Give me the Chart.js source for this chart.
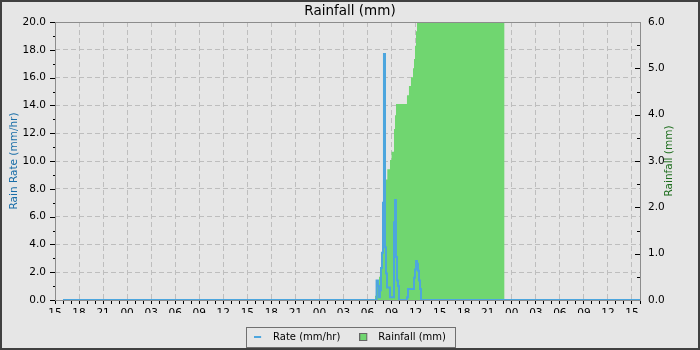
<!DOCTYPE html>
<html>
<head>
<meta charset="utf-8">
<title>Rainfall</title>
<script src="https://cdn.jsdelivr.net/npm/chart.js@4.4.1/dist/chart.umd.min.js"></script>
<style>
    html, body { margin: 0; padding: 0; background: #404040; }
    #frame { position: absolute; left: 2px; top: 2px; width: 696px; height: 346px; overflow: hidden; background: #e6e6e6; }
    #chart { display: block; }
</style>
</head>
<body>
<div id="frame"><canvas id="chart" width="696" height="350"></canvas></div>
<script>
// x axis runs in hours after 15:00 on the first day; labels every 3 hours
const hourTickLabels = ['15', '18', '21', '00', '03', '06', '09', '12', '15', '18', '21', '00', '03',
    '06', '09', '12', '15', '18', '21', '00', '03', '06', '09', '12', '15'];

// rain rate (mm/hr), each value holds until the next time
const rateHours = [1, 40.13, 40.3, 40.43, 40.55, 40.68, 40.8, 40.93, 41.05, 41.18, 41.3, 41.43, 41.8,
    42.3, 42.43, 42.55, 42.68, 42.8, 42.93, 43.92, 44.05, 44.8, 44.92, 45.05, 45.17, 45.3, 45.42,
    45.55, 45.67, 73];
const rateValues = [0, 1.4, 1.0, 0.2, 0.7, 2.3, 3.4, 7.0, 17.7, 3.8, 1.9, 0.9, 0.2,
    5.6, 7.2, 3.1, 1.4, 1.0, 0, 0.2, 0.8, 1.6, 2.2, 2.8, 2.6, 2.1, 1.4,
    0.8, 0, 0];

// accumulated rainfall (mm)
const rainHours = [1, 39.93, 40.05, 40.18, 40.43, 40.55, 40.68, 40.8, 40.93, 41.05, 41.18, 41.3, 41.47,
    41.8, 42.0, 42.3, 42.43, 42.55, 43.92, 44.17, 44.42, 44.67, 44.8, 44.92, 45.05, 45.17, 56.1];
const rainValues = [0, 0.09, 0.18, 0.36, 0.5, 0.61, 0.69, 1.0, 1.5, 2.0, 2.4, 2.6, 2.82,
    3.02, 3.2, 3.69, 3.99, 4.23, 4.42, 4.62, 4.81, 5.0, 5.2, 5.49, 5.8, 6.0, 6.0];

const RATE_COLOR = '#4da6de';
const RAIN_COLOR = '#70d670';
const GRID_COLOR = '#bebebe';

Chart.defaults.font.family = '"DejaVu Sans", sans-serif';
Chart.defaults.font.size = 10;

function legendIcon(kind) {
    const c = document.createElement('canvas');
    c.width = 14;
    c.height = 10;
    const g = c.getContext('2d');
    if (kind === 'line') {
        g.strokeStyle = RATE_COLOR;
        g.lineWidth = 2;
        g.beginPath();
        g.moveTo(0, 5);
        g.lineTo(7, 5);
        g.stroke();
    } else {
        g.fillStyle = RAIN_COLOR;
        g.fillRect(0.5, 1.5, 7, 7);
        g.strokeStyle = '#666';
        g.lineWidth = 1;
        g.strokeRect(0.5, 1.5, 7, 7);
    }
    return c;
}

// frame, hand-drawn axis ticks, right axis title and the legend box
const decorPlugin = {
    id: 'decor',
    afterDraw(chart) {
        const ctx = chart.ctx;
        const a = chart.chartArea;
        const yl = chart.scales.y;
        const yr = chart.scales.y1;
        ctx.save();
        ctx.lineWidth = 1;
        ctx.strokeStyle = '#000';
        ctx.beginPath();
        for (let v = 0; v <= 20; v++) {
            const y = Math.round(yl.getPixelForValue(v)) + 0.5;
            ctx.moveTo(a.left - (v % 2 ? 2 : 5), y);
            ctx.lineTo(a.left, y);
        }
        for (let v = 0; v <= 6; v += 0.5) {
            const y = Math.round(yr.getPixelForValue(v)) + 0.5;
            ctx.moveTo(a.right - (v % 1 ? 3 : 5), y);
            ctx.lineTo(a.right, y);
        }
        ctx.stroke();

        ctx.strokeStyle = '#8c8c8c';
        ctx.strokeRect(a.left + 0.5, a.top + 0.5, a.right - a.left, a.bottom - a.top);

        const boxes = chart.legend.legendHitBoxes;
        if (boxes.length) {
            const last = boxes[boxes.length - 1];
            const l = Math.round(boxes[0].left - 8);
            const r = Math.round(last.left + last.width + 9);
            const t = Math.round(boxes[0].top - 5);
            const b = Math.round(boxes[0].top + boxes[0].height + 5);
            ctx.strokeStyle = '#707070';
            ctx.strokeRect(l + 0.5, t + 0.5, r - l, b - t);
        }

        ctx.fillStyle = '#1e6e1e';
        ctx.font = '10.5px "DejaVu Sans"';
        ctx.textAlign = 'center';
        ctx.textBaseline = 'middle';
        ctx.translate(yr.right - 29, (a.top + a.bottom) / 2);
        ctx.rotate(-Math.PI / 2);
        ctx.fillText('Rainfall (mm)', 0, 0);
        ctx.restore();
    },
};

new Chart(document.getElementById('chart'), {
    type: 'line',
    data: {
        datasets: [
            {
                label: 'Rate (mm/hr)',
                data: rateHours.map(function (h, i) {
                    return { x: h, y: rateValues[i] };
                }),
                yAxisID: 'y',
                borderColor: RATE_COLOR,
                borderWidth: 2,
                stepped: true,
                pointRadius: 0,
                fill: false,
            },
            {
                label: 'Rainfall (mm)',
                data: rainHours.map(function (h, i) {
                    return { x: h, y: rainValues[i] };
                }),
                yAxisID: 'y1',
                borderColor: RAIN_COLOR,
                backgroundColor: RAIN_COLOR,
                borderWidth: 0,
                stepped: true,
                pointRadius: 0,
                fill: 'origin',
            },
        ],
    },
    options: {
        responsive: false,
        animation: false,
        events: [],
        layout: { padding: 0 },
        scales: {
            x: {
                type: 'linear',
                min: 0,
                max: 73,
                afterFit: function (s) { s.height = 13; },
                border: { display: false, dash: [5, 3] },
                grid: {
                    color: function (c) { return c.tick.value % 3 === 0 ? GRID_COLOR : 'transparent'; },
                    tickColor: '#000',
                    tickLength: 4,
                },
                ticks: {
                    stepSize: 1,
                    autoSkip: false,
                    maxRotation: 0,
                    padding: 3,
                    color: '#000',
                    font: { size: 10.5 },
                    callback: function (v) { return v % 3 === 0 ? hourTickLabels[v / 3] : ''; },
                },
            },
            y: {
                position: 'left',
                min: 0,
                max: 20,
                afterFit: function (s) { s.width = 53; },
                border: { display: false, dash: [5, 3] },
                grid: { color: GRID_COLOR, drawTicks: false },
                ticks: {
                    stepSize: 2,
                    padding: 9,
                    color: '#000',
                    font: { size: 10.5 },
                    callback: function (v) { return v.toFixed(1); },
                },
                title: {
                    display: true,
                    text: 'Rain Rate (mm/hr)',
                    color: '#1a6ea8',
                    font: { size: 10.5 },
                    padding: { top: 6, bottom: 0 },
                },
            },
            y1: {
                position: 'right',
                min: 0,
                max: 6,
                afterFit: function (s) { s.width = 58; },
                border: { display: false },
                grid: { drawOnChartArea: false, drawTicks: false },
                ticks: {
                    stepSize: 1,
                    padding: 8,
                    color: '#000',
                    font: { size: 10.5 },
                    callback: function (v) { return v.toFixed(1); },
                },
            },
        },
        plugins: {
            title: {
                display: true,
                text: 'Rainfall (mm)',
                color: '#000',
                font: { size: 13.5, weight: 'normal' },
                padding: { top: 1.5, bottom: 2.3 },
            },
            legend: {
                position: 'bottom',
                labels: {
                    usePointStyle: true,
                    pointStyleWidth: 14,
                    boxHeight: 10,
                    padding: 19,
                    color: '#000',
                    generateLabels: function () {
                        return [
                            { text: 'Rate (mm/hr)', pointStyle: legendIcon('line'), datasetIndex: 0,
                              fontColor: '#000', fillStyle: 'transparent', strokeStyle: 'transparent', lineWidth: 0, hidden: false },
                            { text: 'Rainfall (mm)', pointStyle: legendIcon('rect'), datasetIndex: 1,
                              fontColor: '#000', fillStyle: 'transparent', strokeStyle: 'transparent', lineWidth: 0, hidden: false },
                        ];
                    },
                },
            },
            tooltip: { enabled: false },
        },
    },
    plugins: [decorPlugin],
});
</script>
</body>
</html>
